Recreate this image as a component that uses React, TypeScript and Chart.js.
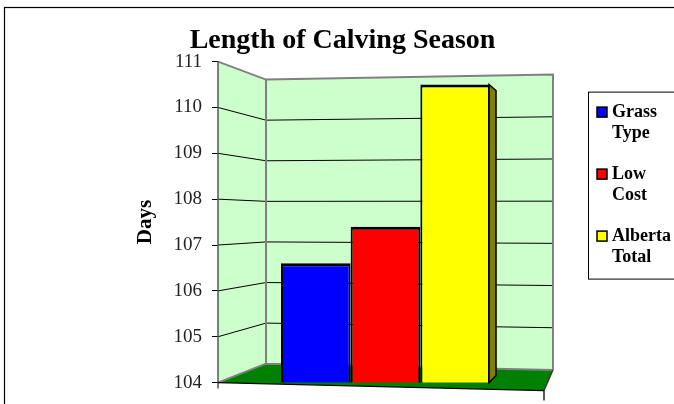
import React, { useEffect, useRef } from "react";
import { Chart, registerables } from "chart.js";

Chart.register(...registerables);

// ---- data ----
const chartTitle = "Length of Calving Season";
const yAxisTitle = "Days";
const categories = [""];
const seriesNames = ["Grass Type", "Low Cost", "Alberta Total"];
const seriesValues = [106.6, 107.4, 110.5];
const seriesColors = ["#0000FF", "#FF0000", "#FFFF00"];
const sideColor = "#808000";
const yMin = 104;
const yMax = 111;
const yStep = 1;

const FONT = "'Liberation Serif', 'Times New Roman', serif";

function poly(ctx: CanvasRenderingContext2D, pts: number[][]) {
  ctx.beginPath();
  ctx.moveTo(pts[0][0], pts[0][1]);
  for (let i = 1; i < pts.length; i++) ctx.lineTo(pts[i][0], pts[i][1]);
}

function geometry(chart: any) {
  const { left: L, right: R, top: T, bottom: B } = chart.chartArea;
  const ys = chart.scales.y;
  const yF = (v: number) => ys.getPixelForValue(v);
  const bx = L + 48;
  const ybL = (v: number) => T + 18 + (yF(v) - T) * 0.885;
  const ybR = (v: number) => T + 13 + (yF(v) - T) * 0.92;
  return { L, R, T, B, yF, bx, ybL, ybR };
}

const plot3d = {
  id: "plot3d",
  beforeDraw(chart: any) {
    const ctx = chart.ctx as CanvasRenderingContext2D;
    ctx.save();
    ctx.fillStyle = "#ffffff";
    ctx.fillRect(0, 0, chart.width, chart.height);
    ctx.strokeStyle = "#000";
    ctx.lineWidth = 1.2;
    ctx.strokeRect(4.5, 7.5, chart.width + 20, chart.height + 20);
    ctx.restore();
  },
  beforeDatasetsDraw(chart: any) {
    const ctx = chart.ctx as CanvasRenderingContext2D;
    const { L, R, yF, bx, ybL, ybR } = geometry(chart);
    ctx.save();
    // walls
    ctx.fillStyle = "#CCFFCC";
    poly(ctx, [[L, yF(yMax)], [bx, ybL(yMax)], [bx, ybL(yMin)], [L, yF(yMin)]]);
    ctx.fill();
    poly(ctx, [[bx, ybL(yMax)], [R, ybR(yMax)], [R, ybR(yMin)], [bx, ybL(yMin)]]);
    ctx.fill();
    // floor
    ctx.fillStyle = "#008000";
    poly(ctx, [[L, yF(yMin)], [bx, ybL(yMin)], [R, ybR(yMin)], [R - 9, yF(yMin) + 8]]);
    ctx.fill();
    // gridlines
    ctx.strokeStyle = "#000";
    ctx.lineWidth = 1;
    for (let v = yMin + yStep; v < yMax; v += yStep) {
      poly(ctx, [[L, yF(v)], [bx, ybL(v)], [R, ybR(v)]]);
      ctx.stroke();
    }
    // gray edges
    ctx.strokeStyle = "#808080";
    ctx.lineWidth = 2;
    poly(ctx, [[L, yF(yMax)], [bx, ybL(yMax)], [R, ybR(yMax)], [R, ybR(yMin)]]);
    ctx.stroke();
    poly(ctx, [[bx, ybL(yMax)], [bx, ybL(yMin)], [R, ybR(yMin)]]);
    ctx.stroke();
    poly(ctx, [[L, yF(yMin)], [bx, ybL(yMin)]]);
    ctx.stroke();
    // front axis line
    ctx.strokeStyle = "#555";
    ctx.lineWidth = 1.5;
    poly(ctx, [[L, yF(yMax)], [L, yF(yMin) + 6]]);
    ctx.stroke();
    // front floor edge + tick
    ctx.strokeStyle = "#000";
    ctx.lineWidth = 1.3;
    poly(ctx, [[L, yF(yMin)], [R - 9, yF(yMin) + 8], [R - 9, yF(yMin) + 18]]);
    ctx.stroke();
    ctx.strokeStyle = "#333";
    poly(ctx, [[R - 9, yF(yMin) + 8], [R, ybR(yMin)]]);
    ctx.stroke();
    ctx.restore();
  },
  afterDatasetsDraw(chart: any) {
    const ctx = chart.ctx as CanvasRenderingContext2D;
    const last = chart.data.datasets.length - 1;
    const meta = chart.getDatasetMeta(last);
    const basePx = chart.scales.y.getPixelForValue(yMin);
    ctx.save();
    meta.data.forEach((bar: any) => {
      const r = bar.x + bar.width / 2 - 1;
      const top = bar.y;
      poly(ctx, [[r, top], [r + 7, top + 6], [r + 7, basePx - 7], [r, basePx]]);
      ctx.closePath();
      ctx.fillStyle = sideColor;
      ctx.fill();
      ctx.strokeStyle = "#000";
      ctx.lineWidth = 1.5;
      ctx.stroke();
    });
    ctx.restore();
  },
  afterDraw(chart: any) {
    const ctx = chart.ctx as CanvasRenderingContext2D;
    const { R, T } = geometry(chart);
    const lx = R + 35;
    const ly = T + 30;
    ctx.save();
    ctx.strokeStyle = "#000";
    ctx.lineWidth = 1;
    ctx.strokeRect(lx + 0.5, ly + 0.5, 200, 187);
    ctx.font = `bold 18px ${FONT}`;
    ctx.textBaseline = "middle";
    ctx.textAlign = "left";
    chart.data.datasets.forEach((ds: any, i: number) => {
      const y0 = ly + 20.5 + i * 62;
      ctx.fillStyle = ds.backgroundColor;
      ctx.fillRect(lx + 9, y0 - 5, 10, 10);
      ctx.lineWidth = 1.5;
      ctx.strokeRect(lx + 9, y0 - 5, 10, 10);
      ctx.fillStyle = "#000";
      String(ds.label)
        .split(" ")
        .forEach((t: string, j: number) => ctx.fillText(t, lx + 24, y0 + j * 21.5));
    });
    ctx.restore();
  },
};

export default function App() {
  const ref = useRef<HTMLCanvasElement | null>(null);
  useEffect(() => {
    if (!ref.current) return;
    const chart = new Chart(ref.current, {
      type: "bar",
      data: {
        labels: categories,
        datasets: seriesNames.map((name, i) => ({
          label: name,
          data: [seriesValues[i]],
          backgroundColor: seriesColors[i],
          borderColor: "#000",
          borderWidth: { top: 3, left: 2, right: 2, bottom: 2 },
          borderSkipped: false,
          categoryPercentage: 0.624,
          barPercentage: 1,
          yAxisID: "y",
        })),
      },
      options: {
        responsive: false,
        devicePixelRatio: 1,
        animation: false,
        layout: { padding: { left: 11, right: 0, top: 0, bottom: 19 } },
        plugins: {
          legend: { display: false },
          tooltip: { enabled: false },
          title: {
            display: true,
            text: chartTitle,
            color: "#000",
            font: { family: FONT, size: 28, weight: "bold" },
            padding: { top: 24, bottom: 4 },
          },
        },
        scales: {
          x: { display: false },
          y: {
            min: yMin,
            max: yMax,
            ticks: {
              stepSize: yStep,
              color: "#222",
              font: { family: FONT, size: 19 },
              padding: 10,
            },
            grid: { drawOnChartArea: false, drawTicks: true, tickLength: 6, color: "#000" },
            border: { display: false },
            title: {
              display: true,
              text: yAxisTitle,
              color: "#000",
              font: { family: FONT, size: 21, weight: "bold" },
              padding: { top: 122, bottom: 0 },
            },
            afterFit: (s: any) => {
              s.width = 207;
            },
          },
          y2: {
            position: "right",
            display: true,
            grid: { display: false, drawTicks: false },
            ticks: { display: false },
            border: { display: false },
            afterFit: (s: any) => {
              s.width = 121;
            },
          },
        },
      },
      plugins: [plot3d],
    } as any);
    return () => chart.destroy();
  }, []);
  return (
    <div
      style={{
        position: "fixed",
        left: 0,
        top: 0,
        width: 674,
        height: 404,
        overflow: "hidden",
        background: "#fff",
      }}
    >
      <canvas ref={ref} width={674} height={404} style={{ display: "block" }} />
    </div>
  );
}
